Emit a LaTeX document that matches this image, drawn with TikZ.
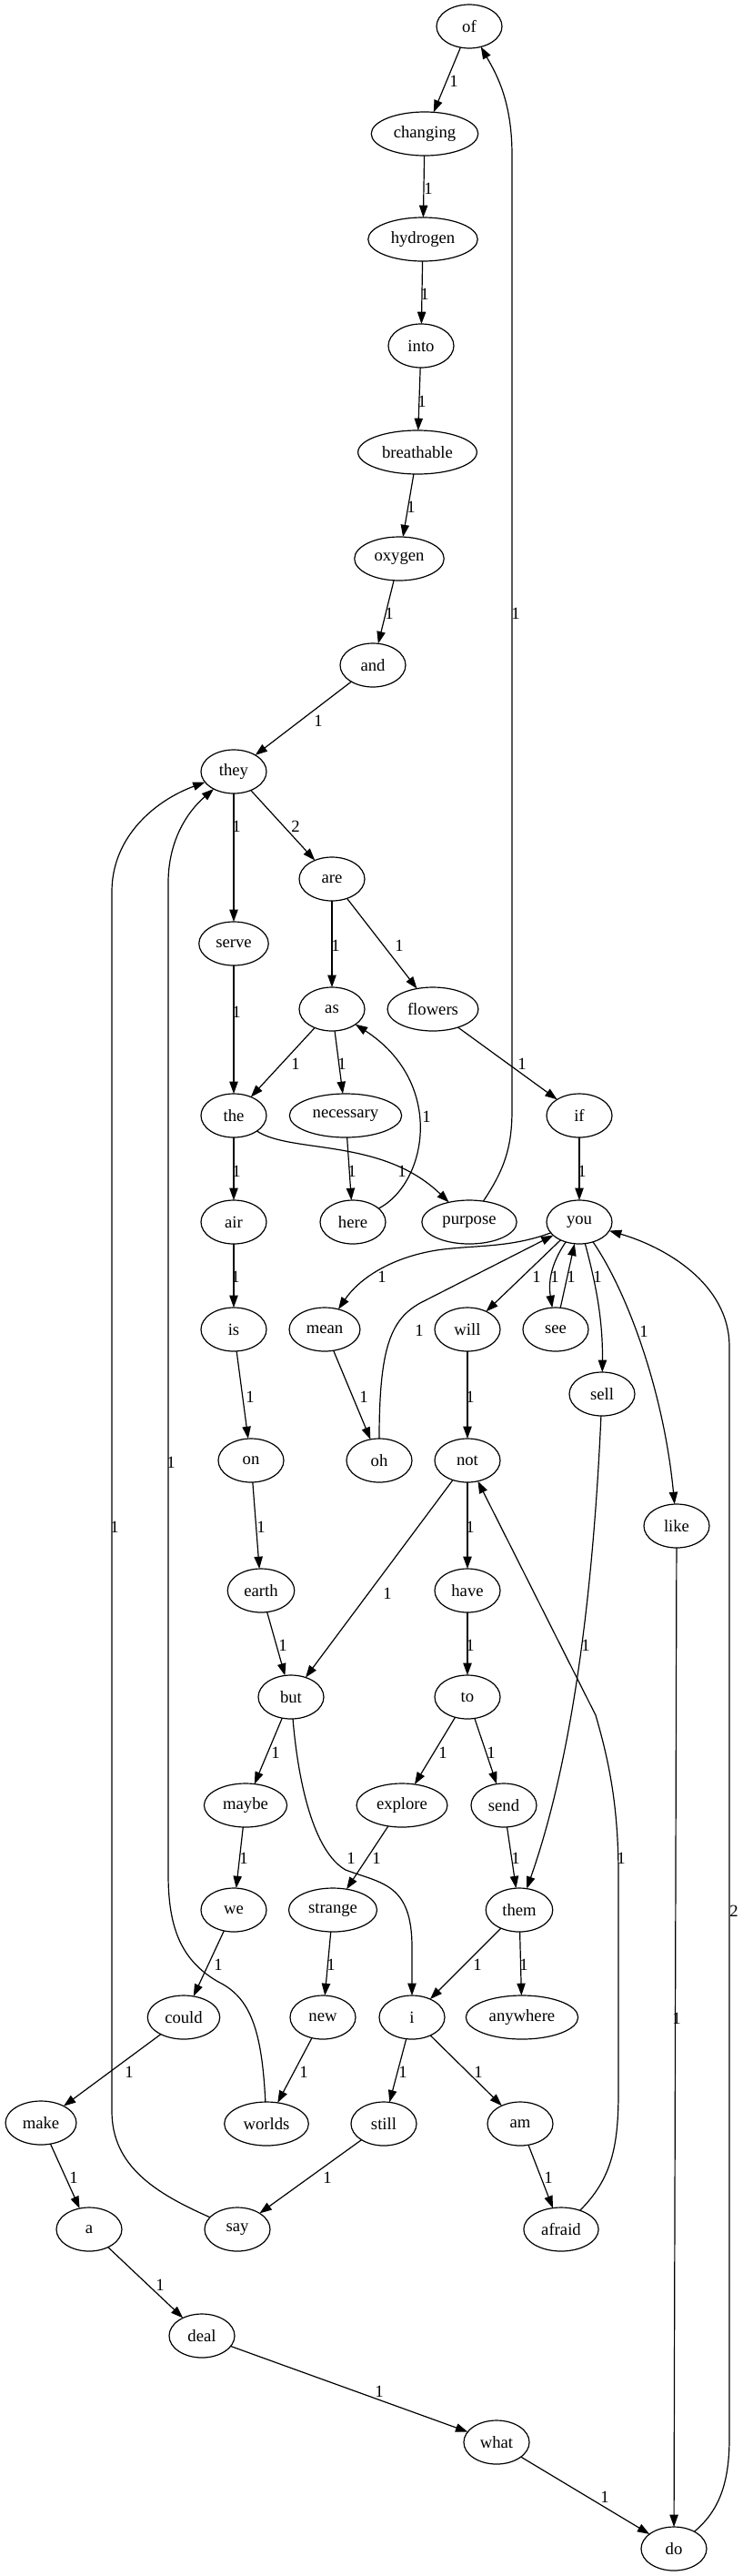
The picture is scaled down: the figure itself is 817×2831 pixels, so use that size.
\documentclass[tikz,border=0pt]{standalone}
\usepackage{fontspec}
\setmainfont{Liberation Serif}
\usetikzlibrary{arrows.meta,shapes.geometric}
\tikzset{
  nd/.style={draw, ellipse, line width=0.9pt, minimum width=54pt, minimum height=36pt,
    inner xsep=5.5pt, inner ysep=2pt, outer sep=0pt, font=\fontsize{14pt}{16pt}\selectfont},
  arr/.style={draw, line width=0.9pt, -{Triangle[length=10pt,width=7pt]}},
  lbl/.style={inner sep=0pt, font=\fontsize{14pt}{16pt}\selectfont}
}
\begin{document}
\begin{tikzpicture}[x=0.75pt,y=-0.75pt]
\fill[white] (0,0) rectangle (817,2831);
\useasboundingbox (0,0) rectangle (817,2831);
% nodes
\node[nd] (n-of) at (516,29) {of};
\node[nd] (n-changing) at (467,147) {changing};
\node[nd] (n-hydrogen) at (465,263) {hydrogen};
\node[nd] (n-into) at (463,380) {into};
\node[nd] (n-breathable) at (459,497) {breathable};
\node[nd] (n-oxygen) at (439,614) {oxygen};
\node[nd] (n-and) at (410,731) {and};
\node[nd] (n-they) at (257,848) {they};
\node[nd] (n-are) at (365,966) {are};
\node[nd] (n-serve) at (257,1037) {serve};
\node[nd] (n-as) at (365,1109) {as};
\node[nd] (n-flowers) at (476,1109) {flowers};
\node[nd] (n-the) at (257,1226) {the};
\node[nd] (n-necessary) at (380,1226) {necessary};
\node[nd] (n-if) at (637,1226) {if};
\node[nd] (n-air) at (257,1343) {air};
\node[nd] (n-here) at (388,1343) {here};
\node[nd] (n-purpose) at (516,1343) {purpose};
\node[nd] (n-you) at (637,1343) {you};
\node[nd] (n-is) at (257,1461) {is};
\node[nd] (n-mean) at (357,1461) {mean};
\node[nd] (n-will) at (514,1461) {will};
\node[nd] (n-see) at (611,1461) {see};
\node[nd] (n-sell) at (662,1532) {sell};
\node[nd] (n-on) at (276,1605) {on};
\node[nd] (n-oh) at (417,1605) {oh};
\node[nd] (n-not) at (514,1605) {not};
\node[nd] (n-like) at (744,1677) {like};
\node[nd] (n-earth) at (287,1748) {earth};
\node[nd] (n-have) at (514,1748) {have};
\node[nd] (n-but) at (320,1865) {but};
\node[nd] (n-to) at (514,1865) {to};
\node[nd] (n-maybe) at (270,1984) {maybe};
\node[nd] (n-explore) at (442,1984) {explore};
\node[nd] (n-send) at (554,1984) {send};
\node[nd] (n-we) at (257,2099) {we};
\node[nd] (n-strange) at (366,2099) {strange};
\node[nd] (n-them) at (571,2099) {them};
\node[nd] (n-could) at (202,2217) {could};
\node[nd] (n-new) at (355,2217) {new};
\node[nd] (n-i) at (453,2217) {i};
\node[nd] (n-anywhere) at (574,2217) {anywhere};
\node[nd] (n-make) at (45,2333) {make};
\node[nd] (n-worlds) at (293,2334) {worlds};
\node[nd] (n-still) at (422,2334) {still};
\node[nd] (n-am) at (572,2334) {am};
\node[nd] (n-a) at (98,2450) {a};
\node[nd] (n-say) at (261,2450) {say};
\node[nd] (n-afraid) at (617,2450) {afraid};
\node[nd] (n-deal) at (222,2567) {deal};
\node[nd] (n-what) at (546,2684) {what};
\node[nd] (n-do) at (741,2801) {do};
% straight edges
\draw[arr] (n-of) -- (n-changing) node[lbl] at (499,89) {1};
\draw[arr] (n-changing) -- (n-hydrogen) node[lbl] at (471,207) {1};
\draw[arr] (n-hydrogen) -- (n-into) node[lbl] at (467,323) {1};
\draw[arr] (n-into) -- (n-breathable) node[lbl] at (464,441) {1};
\draw[arr] (n-breathable) -- (n-oxygen) node[lbl] at (452,557) {1};
\draw[arr] (n-oxygen) -- (n-and) node[lbl] at (428,674) {1};
\draw[arr] (n-and) -- (n-they) node[lbl] at (350,792) {1};
\draw[arr] (n-they) -- (n-serve) node[lbl] at (260,908) {1};
\draw[arr] (n-they) -- (n-are) node[lbl] at (325,908) {2};
\draw[arr] (n-are) -- (n-as) node[lbl] at (369,1039) {1};
\draw[arr] (n-are) -- (n-flowers) node[lbl] at (439,1039) {1};
\draw[arr] (n-serve) -- (n-the) node[lbl] at (260,1112) {1};
\draw[arr] (n-as) -- (n-the) node[lbl] at (325,1169) {1};
\draw[arr] (n-as) -- (n-necessary) node[lbl] at (376,1169) {1};
\draw[arr] (n-flowers) -- (n-if) node[lbl] at (574,1169) {1};
\draw[arr] (n-the) -- (n-air) node[lbl] at (260,1287) {1};
\draw[arr] (n-necessary) -- (n-here) node[lbl] at (387,1287) {1};
\draw[arr] (n-if) -- (n-you) node[lbl] at (640,1287) {1};
\draw[arr] (n-air) -- (n-is) node[lbl] at (259,1403) {1};
\draw[arr] (n-you) -- (n-will) node[lbl] at (590,1403) {1};
\draw[arr] (n-see) -- (n-you) node[lbl] at (628,1403) {1};
\draw[arr] (n-is) -- (n-on) node[lbl] at (275,1535) {1};
\draw[arr] (n-mean) -- (n-oh) node[lbl] at (400,1535) {1};
\draw[arr] (n-will) -- (n-not) node[lbl] at (517,1535) {1};
\draw[arr] (n-on) -- (n-earth) node[lbl] at (287,1678) {1};
\draw[arr] (n-not) -- (n-have) node[lbl] at (517,1678) {1};
\draw[arr] (n-not) -- (n-but) node[lbl] at (426,1751) {1};
\draw[arr] (n-earth) -- (n-but) node[lbl] at (311,1808) {1};
\draw[arr] (n-have) -- (n-to) node[lbl] at (517,1808) {1};
\draw[arr] (n-but) -- (n-maybe) node[lbl] at (303,1926) {1};
\draw[arr] (n-to) -- (n-explore) node[lbl] at (487,1926) {1};
\draw[arr] (n-to) -- (n-send) node[lbl] at (540,1926) {1};
\draw[arr] (n-maybe) -- (n-we) node[lbl] at (268,2042) {1};
\draw[arr] (n-explore) -- (n-strange) node[lbl] at (414,2042) {1};
\draw[arr] (n-send) -- (n-them) node[lbl] at (567,2042) {1};
\draw[arr] (n-we) -- (n-could) node[lbl] at (240,2159) {1};
\draw[arr] (n-strange) -- (n-new) node[lbl] at (364,2159) {1};
\draw[arr] (n-them) -- (n-i) node[lbl] at (525,2159) {1};
\draw[arr] (n-them) -- (n-anywhere) node[lbl] at (576,2159) {1};
\draw[arr] (n-like) -- (n-do) node[lbl] at (744,2218) {1};
\draw[arr] (n-could) -- (n-make) node[lbl] at (142,2277) {1};
\draw[arr] (n-new) -- (n-worlds) node[lbl] at (334,2277) {1};
\draw[arr] (n-i) -- (n-still) node[lbl] at (443,2277) {1};
\draw[arr] (n-i) -- (n-am) node[lbl] at (526,2277) {1};
\draw[arr] (n-make) -- (n-a) node[lbl] at (81,2393) {1};
\draw[arr] (n-still) -- (n-say) node[lbl] at (360,2393) {1};
\draw[arr] (n-am) -- (n-afraid) node[lbl] at (603,2393) {1};
\draw[arr] (n-a) -- (n-deal) node[lbl] at (176,2511) {1};
\draw[arr] (n-deal) -- (n-what) node[lbl] at (417,2628) {1};
\draw[arr] (n-what) -- (n-do) node[lbl] at (665,2744) {1};
% curved edges
\draw[arr] (n-purpose) .. controls (555,1285) and (563,1260) .. (563,1220) -- (563,170) .. controls (563,110) and (545,80) .. (n-of) node[lbl] at (567,674) {1};
\draw[arr] (n-here) .. controls (470,1300) and (490,1190) .. (n-as) node[lbl] at (469,1227) {1};
\draw[arr] (n-the) .. controls (320,1268) and (420,1250) .. (n-purpose) node[lbl] at (442,1287) {1};
\draw[arr] (n-oh) .. controls (417,1480) and (430,1450) .. (462,1432) -- (n-you) node[lbl] at (461,1462) {1};
\draw[arr] (n-you) .. controls (560,1372) and (520,1368) .. (480,1374) .. controls (430,1382) and (395,1405) .. (n-mean) node[lbl] at (420,1403) {1};
\draw[arr] (n-you) .. controls (605,1390) and (603,1410) .. (n-see) node[lbl] at (610,1403) {1};
\draw[arr] (n-you) .. controls (655,1410) and (663,1450) .. (n-sell) node[lbl] at (657,1403) {1};
\draw[arr] (n-you) .. controls (690,1420) and (730,1530) .. (n-like) node[lbl] at (708,1463) {1};
\draw[arr] (n-do) .. controls (790,2760) and (802,2730) .. (802,2680) -- (802,1480) .. controls (802,1410) and (730,1370) .. (n-you) node[lbl] at (807,2100) {2};
\draw[arr] (n-afraid) .. controls (672,2395) and (680,2360) .. (680,2300) -- (680,2060) .. controls (680,1980) and (668,1930) .. (655,1885) -- (n-not) node[lbl] at (683,2042) {1};
\draw[arr] (n-sell) .. controls (650,1800) and (620,1960) .. (n-them) node[lbl] at (644,1808) {1};
\draw[arr] (n-but) .. controls (328,1960) and (345,2035) .. (380,2055) .. controls (420,2070) and (453,2070) .. (453,2140) -- (n-i) node[lbl] at (386,2042) {1};
\draw[arr] (n-worlds) .. controls (288,2230) and (275,2195) .. (240,2178) .. controls (200,2155) and (185,2120) .. (185,2060) -- (185,970) .. controls (185,925) and (205,893) .. (n-they) node[lbl] at (188,1607) {1};
\draw[arr] (n-say) .. controls (170,2410) and (123,2380) .. (123,2320) -- (123,980) .. controls (123,920) and (170,880) .. (n-they) node[lbl] at (126,1678) {1};
\end{tikzpicture}
\end{document}
